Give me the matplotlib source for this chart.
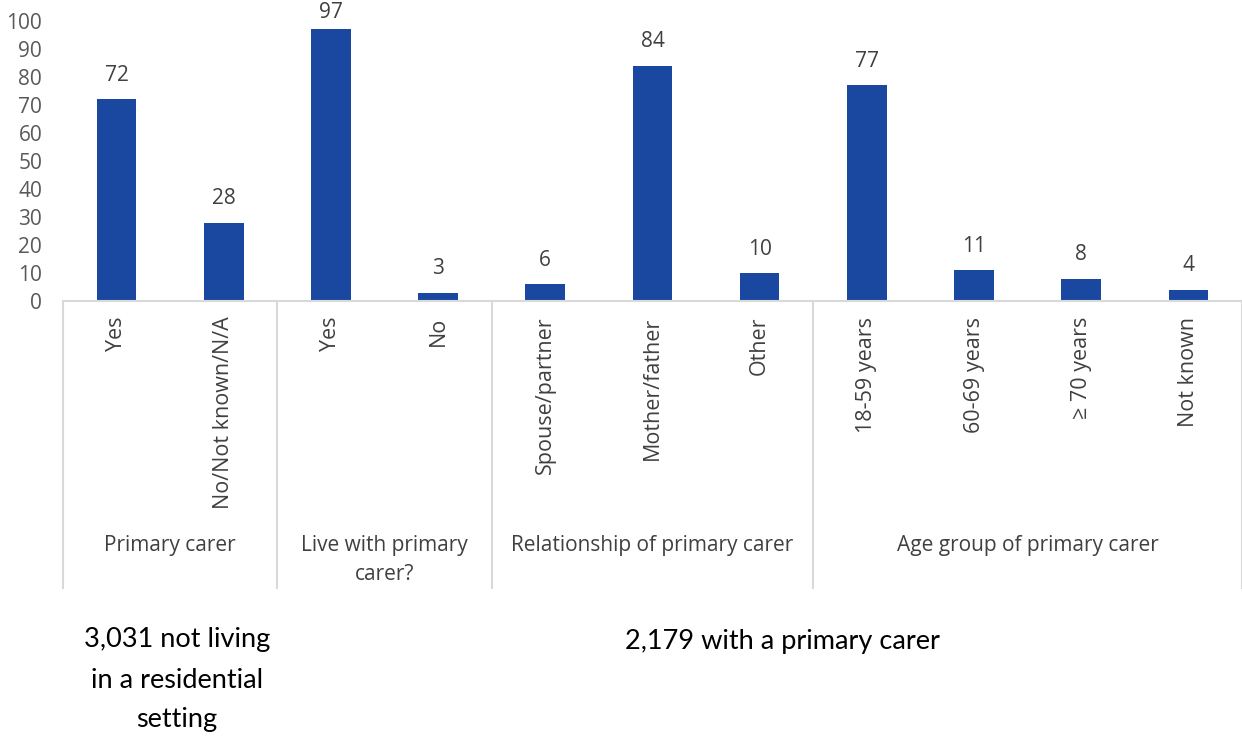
import matplotlib.pyplot as plt
import matplotlib.transforms as mtransforms

# Datos
categorias = ["Yes", "No/Not known/N/A", "Yes", "No", "Spouse/partner",
              "Mother/father", "Other", "18-59 years", "60-69 years",
              "\u2265 70 years", "Not known"]
valores = [72, 28, 97, 3, 6, 84, 10, 77, 11, 8, 4]
grupos = ["Primary carer", "Live with primary\ncarer?",
          "Relationship of primary carer", "Age group of primary carer"]
tam_grupos = [2, 2, 3, 4]
notas = ["3,031 not living\nin a residential\nsetting", "2,179 with a primary carer"]

plt.rcParams['font.family'] = ['Open Sans', 'DejaVu Sans']

fig = plt.figure(figsize=(12.42, 7.38), dpi=100)
ax = fig.add_axes([0.0507, 0.592, 0.9493, 0.3795])

x = list(range(len(categorias)))
ax.bar(x, valores, width=0.37, color="#1A47A0", zorder=2)
for xi, v in zip(x, valores):
    ax.text(xi, min(v + 8.6, 103.2), str(v), ha="center", va="center",
            fontsize=15, color="#404040")

ax.set_xlim(-0.5, len(categorias) - 0.5)
ax.set_ylim(0, 100)
ax.set_yticks(range(0, 101, 10))
ax.tick_params(axis="y", length=0, labelsize=15, labelcolor="#595959", pad=15)
ax.set_xticks([])
for s in ["left", "right", "top"]:
    ax.spines[s].set_visible(False)
ax.spines["bottom"].set_color("#D9D9D9")
ax.spines["bottom"].set_linewidth(1.5)

trans = mtransforms.blended_transform_factory(ax.transData, ax.transAxes)

# etiquetas de categoria giradas
for xi, c in zip(x, categorias):
    ax.text(xi, -0.055, c, rotation=90, ha="center", va="top", fontsize=15.5,
            color="#404040", transform=trans)

# separadores y nombres de grupo
inicio = -0.5
ax.plot([inicio, inicio], [0, -1.025], color="#D9D9D9", lw=1.5, transform=trans, clip_on=False)
for g, n in zip(grupos, tam_grupos):
    fin = inicio + n
    ax.plot([fin, fin], [0, -1.025], color="#D9D9D9", lw=1.5, transform=trans, clip_on=False)
    ax.text((inicio + fin) / 2, -0.835, g, ha="center", va="top", fontsize=15,
            color="#404040", transform=trans, linespacing=1.5)
    inicio = fin

# notas inferiores
fig.text(0.1425, 1 - 680 / 738, notas[0], ha="center", va="center", fontsize=19.5,
         color="black", linespacing=1.75, family=["Lato", "DejaVu Sans"])
fig.text(0.630, 1 - 641 / 738, notas[1], ha="center", va="center", fontsize=19.5,
         color="black", family=["Lato", "DejaVu Sans"])

fig.savefig("out.png", dpi=100)
